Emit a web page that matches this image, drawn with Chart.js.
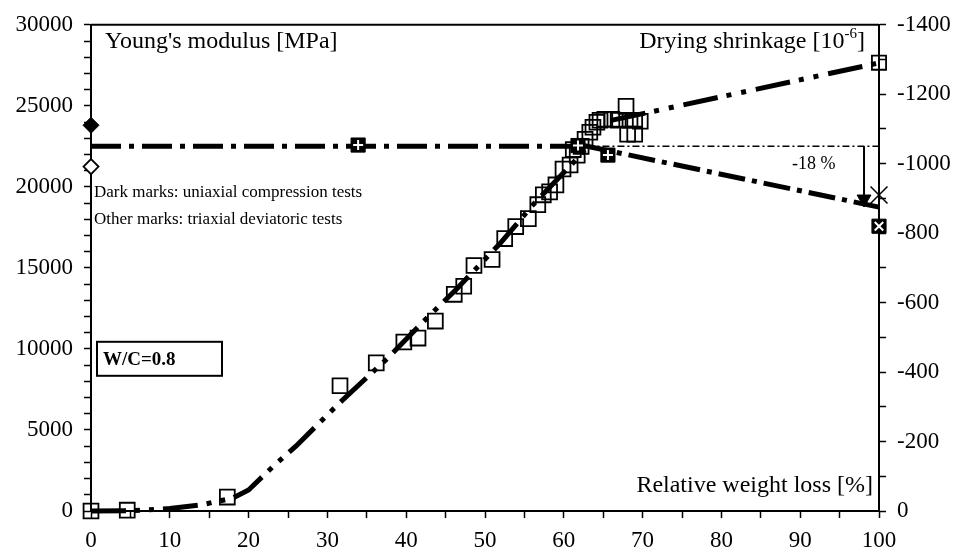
<!DOCTYPE html>
<html>
<head>
<meta charset="utf-8">
<script src="https://cdn.jsdelivr.net/npm/chart.js@4.4.1/dist/chart.umd.min.js"></script>
<style>
  html, body { margin: 0; padding: 0; background: #fff; }
  #wrap { width: 958px; height: 559px; }
</style>
</head>
<body>
<div id="wrap"><canvas id="chart" width="958" height="559"></canvas></div>
<script>
// young's modulus, open squares (triaxial tests)
const modWeightLoss = [0, 4.6, 17.3, 31.6, 36.2, 39.7, 41.5, 43.7, 46.1, 47.3, 48.6, 50.9, 52.5, 53.9, 55.5, 56.7, 57.4, 58.2, 59.0, 59.9,
  60.8, 61.2, 61.7, 62.2, 62.7, 63.3, 63.7, 64.2, 64.6, 65.2, 66.1, 66.9, 67.9, 68.4, 69.0, 69.7, 68.1, 69.0];
const modValues = [0, 50, 860, 7730, 9140, 10430, 10670, 11720, 13370, 13870, 15150, 15520, 16810, 17550, 18040, 18900, 19510, 19690, 20120, 21100,
  21350, 22300, 21960, 22500, 22940, 23370, 23680, 23990, 24110, 24170, 24170, 24110, 24970, 24110, 24110, 24050, 23250, 23250];

// uniaxial compression (dark marks)
const uniWeightLoss = [33.9, 61.8, 65.6];
const uniValues = [22580, 22550, 21960];
const diamondDark = [23800];
const diamondOpen = [21250];

// drying shrinkage at 100 %
const shrinkOpen = [-1291];
const shrinkCross = [-910];
const shrinkDark = [-820];

// fitted curve
const fitWeightLoss = [0, 5, 10, 14, 18, 20, 23, 26, 31.6, 37.7, 42, 46.4, 51.9, 56.1, 61.8, 63];
const fitValues = [0, 20, 150, 380, 800, 1300, 2700, 4000, 6700, 9450, 11600, 13700, 16500, 18900, 21800, 22500];

const plateauX = [0, 63];
const plateauY = [22500, 22500];
const refX = [63, 100];
const refY = [22500, 22500];
const upperX = [66, 100];
const upperY = [24100, 27650];
const lowerX = [62.5, 100];
const lowerY = [22550, 18750];
const arrowX = [98.1, 98.1];
const arrowY = [22500, 19250];

const xTicks = [0, 10, 20, 30, 40, 50, 60, 70, 80, 90, 100];

const FONT = 'Liberation Serif, Times New Roman, serif';

function pts(xs, ys) {
  return xs.map((x, i) => ({ x: x, y: ys[i] }));
}

const annotations = {
  id: 'annotations',
  afterDraw(chart) {
    const ctx = chart.ctx;
    const a = chart.chartArea;
    ctx.save();
    // top frame line
    ctx.strokeStyle = '#000';
    ctx.lineWidth = 2;
    ctx.beginPath();
    ctx.moveTo(a.left, a.top);
    ctx.lineTo(a.right, a.top);
    ctx.stroke();

    ctx.fillStyle = '#000';
    ctx.textBaseline = 'alphabetic';
    ctx.font = '24px ' + FONT;
    ctx.textAlign = 'left';
    ctx.fillText("Young's modulus [MPa]", a.left + 14, a.top + 23);

    // right title with superscript
    const tail = ']';
    const sup = '-6';
    const head = 'Drying shrinkage [10';
    const wTail = ctx.measureText(tail).width;
    const wHead = ctx.measureText(head).width;
    ctx.font = '15px ' + FONT;
    const wSup = ctx.measureText(sup).width;
    let rx = a.right - 14;
    ctx.font = '24px ' + FONT;
    ctx.fillText(tail, rx - wTail, a.top + 23);
    ctx.font = '15px ' + FONT;
    ctx.fillText(sup, rx - wTail - wSup, a.top + 13);
    ctx.font = '24px ' + FONT;
    ctx.fillText(head, rx - wTail - wSup - wHead, a.top + 23);

    ctx.textAlign = 'right';
    ctx.fillText('Relative weight loss [%]', a.right - 6, a.bottom - 19);

    ctx.textAlign = 'left';
    ctx.font = '17px ' + FONT;
    ctx.fillText('Dark marks: uniaxial compression tests', a.left + 3, a.top + 172);
    ctx.fillText('Other marks: triaxial deviatoric tests', a.left + 3, a.top + 199);
    ctx.font = '18px ' + FONT;
    ctx.fillText('-18 %', a.left + 701, a.top + 144);

    // W/C box
    ctx.lineWidth = 2;
    ctx.strokeRect(a.left + 6, a.top + 317, 125, 34);
    ctx.font = 'bold 19px ' + FONT;
    ctx.fillText('W/C=0.8', a.left + 12, a.top + 340);
    ctx.restore();
  }
};

const blackTicks = {
  display: true,
  drawOnChartArea: false,
  drawTicks: true,
  tickLength: 7,
  tickWidth: 1.5,
  tickColor: '#000',
  color: '#000'
};

const ctx = document.getElementById('chart').getContext('2d');
const chart = new Chart(ctx, {
  type: 'scatter',
  data: {
    datasets: [
      { // white cross inside dark squares
        data: pts(uniWeightLoss, uniValues), pointStyle: 'cross', pointRadius: 5,
        borderColor: '#fff', borderWidth: 2, backgroundColor: '#fff', clip: false
      },
      {
        data: pts(uniWeightLoss, uniValues), pointStyle: 'rect', pointRadius: 10,
        borderColor: '#000', backgroundColor: '#000', borderWidth: 1, clip: false
      },
      {
        data: pts([100], shrinkDark), yAxisID: 'y2', pointStyle: 'crossRot', pointRadius: 6,
        borderColor: '#fff', borderWidth: 2, clip: false
      },
      {
        data: pts([100], shrinkDark), yAxisID: 'y2', pointStyle: 'rect', pointRadius: 10,
        borderColor: '#000', backgroundColor: '#000', borderWidth: 1, clip: false
      },
      {
        data: pts([100], shrinkCross), yAxisID: 'y2', pointStyle: 'crossRot', pointRadius: 12,
        borderColor: '#000', borderWidth: 1.5, clip: false
      },
      {
        data: pts([100], shrinkOpen), yAxisID: 'y2', pointStyle: 'rect', pointRadius: 10,
        borderColor: '#000', backgroundColor: 'rgba(0,0,0,0)', borderWidth: 1.8, clip: false
      },
      {
        data: pts([0], diamondDark), pointStyle: 'rectRot', pointRadius: 8,
        borderColor: '#000', backgroundColor: '#000', borderWidth: 1, clip: false
      },
      {
        data: pts([0], diamondOpen), pointStyle: 'rectRot', pointRadius: 7.5,
        borderColor: '#000', backgroundColor: '#fff', borderWidth: 1.8, clip: false
      },
      {
        data: pts(modWeightLoss, modValues), pointStyle: 'rect', pointRadius: 10.5,
        borderColor: '#000', backgroundColor: 'rgba(0,0,0,0)', borderWidth: 1.8, clip: false
      },
      { // arrow
        data: pts(arrowX, arrowY), showLine: true, borderColor: '#000', borderWidth: 2,
        pointStyle: 'triangle', pointRotation: 180, pointRadius: [0, 8],
        backgroundColor: '#000', pointBorderWidth: 1, clip: false
      },
      {
        data: pts(fitWeightLoss, fitValues), showLine: true, pointRadius: 0,
        borderColor: '#000', borderWidth: 5, borderDash: [35, 9, 5, 9, 5, 9], clip: false
      },
      {
        data: pts(plateauX, plateauY), showLine: true, pointRadius: 0,
        borderColor: '#000', borderWidth: 5, borderDash: [30, 8, 5, 8], clip: false
      },
      {
        data: pts(refX, refY), showLine: true, pointRadius: 0,
        borderColor: '#000', borderWidth: 1.5, borderDash: [7, 3, 2, 3], clip: false
      },
      {
        data: pts(upperX, upperY), showLine: true, pointRadius: 0,
        borderColor: '#000', borderWidth: 5, borderDash: [35, 9, 5, 10, 5, 10], clip: false
      },
      {
        data: pts(lowerX, lowerY), showLine: true, pointRadius: 0,
        borderColor: '#000', borderWidth: 5, borderDash: [27, 7, 5, 7], clip: false
      }
    ]
  },
  options: {
    responsive: false,
    animation: false,
    events: [],
    layout: { padding: { top: 22, left: 0, right: 0, bottom: 0 } },
    plugins: { legend: { display: false }, tooltip: { enabled: false } },
    scales: {
      x: {
        type: 'linear', min: 0, max: 100,
        grid: blackTicks,
        border: { display: true, color: '#000', width: 2 },
        ticks: {
          stepSize: 5, padding: 9, color: '#000', maxRotation: 0, autoSkip: false,
          font: { family: FONT, size: 23 },
          callback: (v) => xTicks.includes(v) ? String(v) : ''
        },
        afterFit: (s) => { s.height = 48; }
      },
      y: {
        type: 'linear', position: 'left', min: 0, max: 30000,
        grid: blackTicks,
        border: { display: true, color: '#000', width: 2 },
        ticks: {
          stepSize: 1000, padding: 11, color: '#000', autoSkip: false,
          font: { family: FONT, size: 23 },
          callback: (v) => v % 5000 === 0 ? String(v) : ''
        },
        afterFit: (s) => { s.width = 91; }
      },
      y2: {
        type: 'linear', position: 'right', min: -1400, max: 0, reverse: true,
        grid: blackTicks,
        border: { display: true, color: '#000', width: 2 },
        ticks: {
          stepSize: 100, padding: 11, color: '#000', autoSkip: false,
          font: { family: FONT, size: 23 },
          callback: (v) => v % 200 === 0 ? String(v) : ''
        },
        afterFit: (s) => { s.width = 79; }
      }
    }
  },
  plugins: [annotations]
});
</script>
</body>
</html>
